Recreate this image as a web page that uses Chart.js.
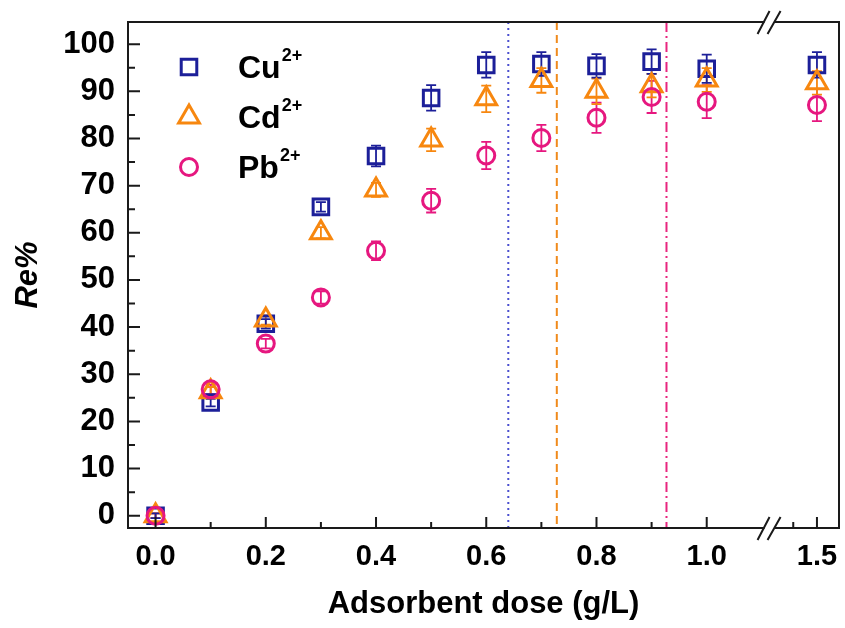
<!DOCTYPE html>
<html><head><meta charset="utf-8">
<script src="https://cdn.jsdelivr.net/npm/chart.js@4/dist/chart.umd.min.js"></script>
<style>html,body{margin:0;padding:0;background:#fff;overflow:hidden;}canvas{display:block;}</style>
</head><body><canvas id="c" width="845" height="628" style="width:845px;height:628px"></canvas>
<script>
// ---- data ----
const doses      = [0, 0.1, 0.2, 0.3, 0.4, 0.5, 0.6, 0.7, 0.8, 0.9, 1.0, 1.5];
const cuValues   = [0, 24.0, 40.7, 65.5, 76.3, 88.6, 95.6, 95.8, 95.4, 96.3, 94.8, 95.6];
const cuErrors   = [0.5, 0.8, 1.0, 1.0, 2.2, 2.7, 2.7, 2.5, 2.5, 2.6, 3.0, 2.7];
const cdValues   = [0, 26.3, 41.5, 60.0, 69.1, 79.7, 88.4, 92.3, 90.0, 91.2, 92.4, 91.8];
const cdErrors   = [0.5, 1.0, 1.0, 1.2, 1.5, 2.4, 2.8, 2.6, 2.7, 2.5, 2.5, 2.5];
const pbValues   = [0, 26.8, 36.5, 46.3, 56.2, 66.8, 76.4, 80.1, 84.4, 88.8, 87.8, 87.1];
const pbErrors   = [0.5, 1.0, 1.0, 1.3, 2.0, 2.5, 2.9, 2.8, 3.2, 3.4, 3.5, 3.4];
const seriesNames = ['Cu', 'Cd', 'Pb'];
const seriesCharge = '2+';
const xMajorTicks = [0, 0.2, 0.4, 0.6, 0.8, 1.0, 1.5];
const xTickLabels = ['0.0', '0.2', '0.4', '0.6', '0.8', '1.0', '1.5'];
const xMinorTicks = [0.1, 0.3, 0.5, 0.7, 0.9, 1.4];
const yMajorTicks = [0, 10, 20, 30, 40, 50, 60, 70, 80, 90, 100];
const yMinorTicks = [5, 15, 25, 35, 45, 55, 65, 75, 85, 95];
const refLineDoses = [0.64, 0.728, 0.927];   // Cu, Cd, Pb saturation markers
const breakDose = 1.3;                         // axis break between 1.0 and 1.5

// broken x axis: values after 1.0 are compressed
function axisPos(d) { return d <= 1.0 ? d : 1.2 + (d - 1.5) * 0.43; }

const colors = { Cu: '#1c1f99', Cd: '#f7870f', Pb: '#e6177f' };
const refColors = ['#4b4fd0', '#f08a1c', '#e8267f'];
const refDashes = [[2, 4], [8, 5], [10, 4, 2, 4]];

function pts(vals) { return doses.map((d, i) => ({ x: axisPos(d), y: vals[i] })); }

const FONT = '"Liberation Sans", Arial, Helvetica, sans-serif';
const MARK = { Cu: ['rect', 11], Cd: ['triangle', 12], Pb: ['circle', 8.5] };
const BW = 3;

const errorBars = {
  id: 'errorBars',
  beforeDatasetsDraw(chart) {
    const ctx = chart.ctx, xs = chart.scales.x, ys = chart.scales.y;
    const errs = [pbErrors, cdErrors, cuErrors];
    chart.data.datasets.forEach((ds, k) => {
      ctx.save();
      ctx.strokeStyle = ds.borderColor; ctx.lineWidth = 1.8;
      ds.data.forEach((p, i) => {
        const e = errs[k][i]; if (!e) return;
        const px = xs.getPixelForValue(p.x);
        const y1 = ys.getPixelForValue(p.y + e), y2 = ys.getPixelForValue(p.y - e);
        ctx.beginPath();
        ctx.moveTo(px, y1); ctx.lineTo(px, y2);
        ctx.moveTo(px - 5, y1); ctx.lineTo(px + 5, y1);
        ctx.moveTo(px - 5, y2); ctx.lineTo(px + 5, y2);
        ctx.stroke();
      });
      ctx.restore();
    });
  }
};

const decor = {
  id: 'decor',
  beforeDatasetsDraw(chart) {
    const ctx = chart.ctx, xs = chart.scales.x, a = chart.chartArea;
    refLineDoses.forEach((d, i) => {
      const px = xs.getPixelForValue(axisPos(d));
      ctx.save();
      ctx.strokeStyle = refColors[i]; ctx.lineWidth = 2; ctx.setLineDash(refDashes[i]);
      ctx.beginPath(); ctx.moveTo(px, a.top); ctx.lineTo(px, a.bottom); ctx.stroke();
      ctx.restore();
    });
  },
  afterDraw(chart) {
    const ctx = chart.ctx, xs = chart.scales.x, ys = chart.scales.y, a = chart.chartArea;
    ctx.save();
    ctx.strokeStyle = '#1a1a1a'; ctx.lineWidth = 2; ctx.setLineDash([]);
    const bx = xs.getPixelForValue(axisPos(breakDose));
    const g = 5;
    ctx.beginPath();
    ctx.moveTo(a.left, a.top); ctx.lineTo(a.left, a.bottom);
    ctx.moveTo(a.right, a.top); ctx.lineTo(a.right, a.bottom);
    ctx.moveTo(a.left - 1, a.bottom); ctx.lineTo(bx - g, a.bottom);
    ctx.moveTo(bx + g, a.bottom); ctx.lineTo(a.right + 1, a.bottom);
    ctx.moveTo(a.left - 1, a.top); ctx.lineTo(bx - g, a.top);
    ctx.moveTo(bx + g, a.top); ctx.lineTo(a.right + 1, a.top);
    // ticks (inward)
    xMajorTicks.forEach(v => { const p = xs.getPixelForValue(axisPos(v)); ctx.moveTo(p, a.bottom); ctx.lineTo(p, a.bottom - 11); });
    xMinorTicks.forEach(v => { const p = xs.getPixelForValue(axisPos(v)); ctx.moveTo(p, a.bottom); ctx.lineTo(p, a.bottom - 6); });
    yMajorTicks.forEach(v => { const p = ys.getPixelForValue(v); ctx.moveTo(a.left, p); ctx.lineTo(a.left + 12, p); });
    yMinorTicks.forEach(v => { const p = ys.getPixelForValue(v); ctx.moveTo(a.left, p); ctx.lineTo(a.left + 7, p); });
    ctx.stroke();
    // break marks
    [a.top, a.bottom].forEach(y0 => {
      ctx.beginPath();
      ctx.moveTo(bx - 12, y0 + 12); ctx.lineTo(bx, y0 - 11);
      ctx.moveTo(bx - 2, y0 + 12); ctx.lineTo(bx + 11, y0 - 11);
      ctx.stroke();
    });
    ctx.restore();

    // legend
    const mx = 189, rowY = [67, 117, 167];
    seriesNames.forEach((n, i) => {
      ctx.save();
      ctx.strokeStyle = colors[n]; ctx.fillStyle = 'rgba(0,0,0,0)'; ctx.lineWidth = BW;
      Chart.helpers.drawPoint(ctx, { pointStyle: MARK[n][0], radius: MARK[n][1], borderWidth: BW, rotation: 0 }, mx, rowY[i]);
      ctx.restore();
      ctx.save();
      ctx.fillStyle = '#000'; ctx.textBaseline = 'alphabetic'; ctx.textAlign = 'left';
      ctx.font = 'bold 32px ' + FONT;
      ctx.fillText(n, 238, rowY[i] + 11);
      const w = ctx.measureText(n).width;
      ctx.font = 'bold 18px ' + FONT;
      ctx.fillText(seriesCharge, 238 + w + 1, rowY[i] - 6);
      ctx.restore();
    });
  }
};

const common = { showLine: false, backgroundColor: 'rgba(0,0,0,0)', borderWidth: BW, pointHoverRadius: 9 };
new Chart(document.getElementById('c'), {
  type: 'scatter',
  data: {
    datasets: [
      Object.assign({ label: 'Pb2+', data: pts(pbValues), borderColor: colors.Pb, pointStyle: MARK.Pb[0], pointRadius: MARK.Pb[1] }, common),
      Object.assign({ label: 'Cd2+', data: pts(cdValues), borderColor: colors.Cd, pointStyle: MARK.Cd[0], pointRadius: MARK.Cd[1] }, common),
      Object.assign({ label: 'Cu2+', data: pts(cuValues), borderColor: colors.Cu, pointStyle: MARK.Cu[0], pointRadius: MARK.Cu[1] }, common)
    ]
  },
  options: {
    responsive: false, maintainAspectRatio: false, animation: false, devicePixelRatio: 1,
    layout: { autoPadding: false, padding: { left: 0, right: 6, top: 22, bottom: 0 } },
    plugins: { legend: { display: false }, tooltip: { enabled: false } },
    scales: {
      x: {
        type: 'linear', min: -0.05, max: 1.24,
        grid: { display: false, drawTicks: false }, border: { display: false },
        afterBuildTicks: s => { s.ticks = xMajorTicks.map(v => ({ value: axisPos(v) })); },
        ticks: { padding: 0, color: '#000', font: { family: FONT, size: 29, weight: 'bold', lineHeight: 2.03 },
                 autoSkip: false, maxRotation: 0, callback: (v, i) => xTickLabels[i] },
        afterFit: s => { s.height = 100; s.paddingLeft = 0; s.paddingRight = 0; },
        title: { display: true, text: 'Adsorbent dose (g/L)', color: '#000',
                 font: { family: FONT, size: 31, weight: 'bold' }, padding: { top: 0, bottom: 5 } }
      },
      y: {
        type: 'linear', min: -2.6, max: 104.7,
        grid: { display: false, drawTicks: false }, border: { display: false },
        afterBuildTicks: s => { s.ticks = yMajorTicks.map(v => ({ value: v })); },
        ticks: { padding: 13, color: '#000', font: { family: FONT, size: 31, weight: 'bold', lineHeight: 0.3 } },
        afterFit: s => { s.width = 128; s.paddingTop = 0; s.paddingBottom = 0; },
        title: { display: true, text: 'Re%', color: '#000',
                 font: { family: FONT, size: 31, weight: 'bold', style: 'italic' }, padding: { top: 10, bottom: 0 } }
      }
    }
  },
  plugins: [decor, errorBars]
});
</script></body></html>
